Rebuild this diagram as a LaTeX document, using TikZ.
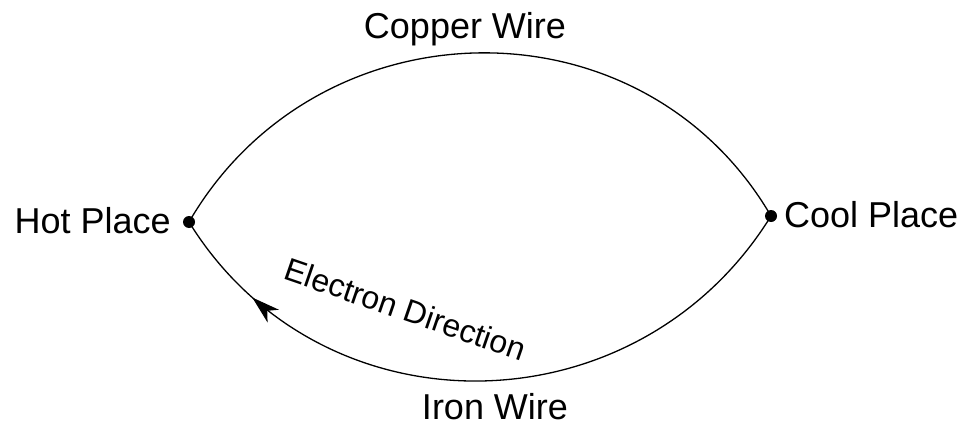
\documentclass[tikz,border=0pt]{standalone}
\usepackage{fontspec}
\setmainfont{Liberation Sans}
\usetikzlibrary{arrows.meta,decorations.markings}
\begin{document}
\begin{tikzpicture}[x=1pt,y=-1pt,
  wire/.style={line width=1.3pt,black},
  dotnode/.style={circle,fill=black,inner sep=0pt,minimum size=12pt},
  lbl/.style={inner sep=0pt,font=\fontsize{36}{40}\selectfont},
  dirlbl/.style={inner sep=0pt,font=\fontsize{32}{36}\selectfont},
  midarrow/.style={postaction={decorate},decoration={markings,
    mark=at position 0.858 with {\arrow{Stealth[length=28pt,width=17pt,inset=8pt]}}}}]
\useasboundingbox (0,0) rectangle (965,425);
\node[dotnode] (hot) at (189,222) {};
\node[dotnode] (cool) at (771,216) {};
\draw[wire] (hot.center) .. controls (318,0) and (642,-5) .. (cool.center);
\draw[wire,midarrow] (cool.center) .. controls (637.5,432) and (322.5,438) .. (hot.center);
\node[lbl,anchor=base east] (hotlbl) at (171,233) {Hot Place};
\node[lbl,anchor=base west] (coollbl) at (784,227) {Cool Place};
\node[lbl,anchor=base] (cu) at (465,39) {Copper Wire};
\node[lbl,anchor=base] (fe) at (495,419) {Iron Wire};
\node[dirlbl,anchor=base,rotate=-19] (dir) at (402,320) {Electron Direction};
\end{tikzpicture}
\end{document}
